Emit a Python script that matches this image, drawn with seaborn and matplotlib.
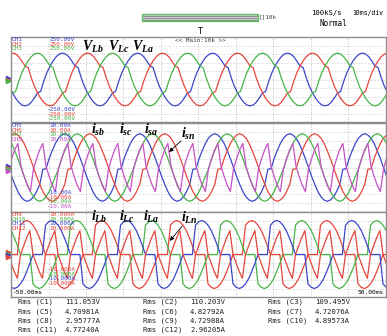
import numpy as np
import pandas as pd
import matplotlib
matplotlib.use("Agg")
import matplotlib.pyplot as plt
import matplotlib.patches as mpatches
import seaborn as sns

# ---------------- data ----------------
time_span_ms = [-50.0, 50.0]
period_ms = 20.0

# Zone 1: load voltages, one period (24 samples, 0.833 ms apart) starting at v_t0
v_t0 = -49.6
ch1_v = [-78, -110, -134, -150, -155, -150, -134, -108, -80, -70, -10, 40,
         78, 110, 134, 150, 155, 150, 134, 108, 80, 70, 10, -40]
ch2_v = [155, 150, 134, 108, 80, 70, 10, -40, -78, -110, -134, -150,
         -155, -150, -134, -108, -80, -70, -10, 40, 78, 110, 134, 150]
ch3_v = [-80, -70, -10, 40, 78, 110, 134, 150, 155, 150, 134, 108,
         80, 70, 10, -40, -78, -110, -134, -150, -155, -150, -134, -108]

# Zone 2: source currents (A)
is_t0 = -49.0
ch5_i = [-3.8, -5.4, -6.6, -7.3, -7.6, -7.3, -6.6, -5.4, -3.8, -0.4, -0.3, 2.0,
         3.8, 5.4, 6.6, 7.3, 7.6, 7.3, 6.6, 5.4, 3.8, 2.0, 0.0, -2.0]
ch6_i = [7.6, 7.3, 6.6, 5.4, 3.8, 2.0, 0.0, -2.0, -3.8, -5.4, -6.6, -7.3,
         -7.6, -7.3, -6.6, -5.4, -3.8, -0.4, -0.3, 2.0, 3.8, 5.4, 6.6, 7.3]
ch7_i = [3.8, 2.0, 0.0, -2.0, -3.8, -5.4, -6.6, -7.3, -7.6, -7.3, -6.6, -5.4,
         -3.8, -2.0, -0.3, 2.0, 3.8, 5.4, 6.6, 7.3, 7.6, 7.3, 6.6, 5.4]
ch8_i = [4.0, 5.4, 0.3, -2.0, -4.0, -5.4, -0.3, 2.0,
         4.0, 5.4, 0.3, -2.0, -4.0, -5.4, -0.3, 2.0,
         4.0, 5.4, 0.3, -2.0, -4.0, -5.4, -0.3, 2.0]

# Zone 3: load currents (A)
il_t0 = -45.8
ch9_i = [8.0, 7.7, 6.9, 5.7, 4.0, 2.1, 0.0, 0.0, 0.0, 0.0, -6.9, -7.7,
         -8.0, -7.7, -6.9, -5.7, -4.0, -2.1, 0.0, 0.0, 0.0, 0.0, 6.9, 7.7]
ch10_i = [0.0, 0.0, -6.9, -7.7, -8.0, -7.7, -6.9, -5.7, -4.0, -2.1, 0.0, 0.0,
          0.0, 0.0, 6.9, 7.7, 8.0, 7.7, 6.9, 5.7, 4.0, 2.1, 0.0, 0.0]
ch11_i = [-4.0, -2.1, 0.0, 0.0, 0.0, 0.0, 6.9, 7.7, 8.0, 7.7, 6.9, 5.7,
          4.0, 2.1, 0.0, 0.0, 0.0, 0.0, -6.9, -7.7, -8.0, -7.7, -6.9, -5.7]
ch12_i = [4.0, 5.6, 0.0, -2.0, -4.0, -5.6, 0.0, 2.0,
          4.0, 5.6, 0.0, -2.0, -4.0, -5.6, 0.0, 2.0,
          4.0, 5.6, 0.0, -2.0, -4.0, -5.6, 0.0, 2.0]

rms_labels = ["Rms (C1)", "Rms (C2)", "Rms (C3)",
              "Rms (C5)", "Rms (C6)", "Rms (C7)",
              "Rms (C8)", "Rms (C9)", "Rms (C10)",
              "Rms (C11)", "Rms (C12)"]
rms_values = ["111.053V", "110.203V", "109.495V",
              "4.70981A", "4.82792A", "4.72076A",
              "2.95777A", "4.72988A", "4.89573A",
              "4.77240A", "2.96205A"]

# ---------------- helpers ----------------
BLUE, RED, GREEN, MAG = "#3c46c8", "#e4463c", "#46b446", "#c452c4"
W, H = 387, 336
MONO = "DejaVu Sans Mono"


def periodic_frame(series, t0):
    rows = []
    for name, vals in series.items():
        n = len(vals)
        dt = period_ms / n
        k = np.arange(-n, 6 * n + 1)
        rows.append(pd.DataFrame({"t": t0 + k * dt,
                                  "v": np.asarray(vals, float)[k % n],
                                  "ch": name}))
    return pd.concat(rows, ignore_index=True)


def px_axes(x0, y0, x1, y1):
    return fig.add_axes([x0 / W, 1 - y1 / H, (x1 - x0) / W, (y1 - y0) / H])


def ftext(x, y, s, **kw):
    kw.setdefault("family", MONO)
    kw.setdefault("va", "center")
    fig.text(x / W, 1 - y / H, s, **kw)


sns.set_theme(style="white")
plt.rcParams["font.family"] = ["DejaVu Sans"]
plt.rcParams["mathtext.fontset"] = "custom"
plt.rcParams["mathtext.rm"] = "Liberation Serif:bold"
plt.rcParams["mathtext.it"] = "Liberation Serif:italic:bold"

fig = plt.figure(figsize=(W / 100, H / 100), dpi=100, facecolor="white")

zones = [
    (37, 122, 250, {"CH1": ch1_v, "CH2": ch2_v, "CH3": ch3_v}, v_t0,
     {"CH1": BLUE, "CH2": RED, "CH3": GREEN}),
    (123, 212, 10, {"CH5": ch5_i, "CH6": ch6_i, "CH7": ch7_i, "CH8": ch8_i}, is_t0,
     {"CH5": BLUE, "CH6": RED, "CH7": GREEN, "CH8": MAG}),
    (212, 297, 10, {"CH9": ch9_i, "CH10": ch10_i, "CH11": ch11_i, "CH12": ch12_i}, il_t0,
     {"CH9": RED, "CH10": GREEN, "CH11": BLUE, "CH12": RED}),
]

axes = []
for (y0, y1, lim, series, t0, pal) in zones:
    ax = px_axes(11, y0, 386, y1)
    df = periodic_frame(series, t0)
    sns.lineplot(data=df, x="t", y="v", hue="ch", hue_order=list(series.keys()),
                 palette=pal, estimator=None, legend=False, ax=ax, lw=0.9)
    ax.set_xlim(*time_span_ms)
    ax.set_ylim(-lim, lim)
    for xv in np.arange(-40, 50, 10):
        ax.axvline(xv, color="#a8a8a8", lw=0.6, ls=(0, (1, 2.0)), zorder=0)
    for yv in np.linspace(-lim, lim, 11)[1:-1]:
        ax.axhline(yv, color="#b4b4b4", lw=0.6, ls=(0, (1, 2.6)), zorder=0)
    ax.set_xticks([])
    ax.set_yticks([])
    ax.set_xlabel("")
    ax.set_ylabel("")
    for s in ax.spines.values():
        s.set_color("#8c8c8c")
        s.set_linewidth(1.0)
    axes.append(ax)

# ---------------- channel labels ----------------
def chlabels(names, cols, vals, ytop, negvals, ybot):
    for i, (n, c, v) in enumerate(zip(names, cols, vals)):
        ftext(12, ytop + i * 4.6, n, color=c, fontsize=4.3)
        ftext(49, ytop + i * 4.6, v, color=c, fontsize=4.3)
    for i, (c, v) in enumerate(zip(cols, negvals)):
        ftext(47, ybot + i * 4.6, v, color=c, fontsize=4.3)

chlabels(["CH1", "CH2", "CH3"], [BLUE, RED, GREEN], ["250.00V"] * 3, 39.5,
         ["-250.00V"] * 3, 109.5)
chlabels(["CH5", "CH6", "CH7", "CH8"], [BLUE, RED, GREEN, MAG], ["10.00A"] * 4, 125.5,
         ["-10.00A"] * 4, 192.5)
chlabels(["CH9", "CH10", "CH11", "CH12"], [RED, GREEN, BLUE, RED], ["10.000A"] * 4, 214.5,
         ["-10.000A"] * 4, 269.5)

# zero-level markers at left of each zone
for yc, cols in [(80, [BLUE, RED, GREEN]), (168, [BLUE, RED, GREEN, MAG]),
                 (254, [RED, GREEN, BLUE, RED])]:
    for j, c in enumerate(cols):
        fig.add_artist(plt.Line2D([7.5 / W], [1 - (yc - 2 + j * 1.5) / H], marker=">",
                                  markersize=3, color=c, lw=0, transform=fig.transFigure))

# ---------------- waveform annotations ----------------
ann = dict(fontsize=10, color="black", va="center", ha="left")
for x, s in [(82, r"$V_{Lb}$"), (108, r"$V_{Lc}$"), (132, r"$V_{La}$")]:
    fig.text(x / W, 1 - 47 / H, s, **ann)
for x, s in [(91, r"$i_{sb}$"), (119, r"$i_{sc}$"), (144, r"$i_{sa}$"), (181, r"$i_{sn}$")]:
    fig.text(x / W, 1 - (130 if x < 170 else 134) / H, s, **ann)
for x, s in [(91, r"$i_{Lb}$"), (119, r"$i_{Lc}$"), (143, r"$i_{La}$"), (181, r"$i_{Ln}$")]:
    fig.text(x / W, 1 - (217 if x < 170 else 218) / H, s, **ann)
for (xa, ya, xb, yb) in [(183, 139, 167, 154), (184, 224, 168, 243)]:
    fig.add_artist(mpatches.FancyArrowPatch((xa / W, 1 - ya / H), (xb / W, 1 - yb / H),
                   transform=fig.transFigure, arrowstyle="-|>", mutation_scale=6,
                   lw=0.6, color="black"))

# ---------------- header ----------------
bar = mpatches.Rectangle((142 / W, 1 - 21 / H), 116 / W, 7 / H, transform=fig.transFigure,
                         facecolor="#d0d0d0", edgecolor="#5cc05c", lw=1.0)
fig.add_artist(bar)
for yy in (15.5, 17.5, 19.5):
    fig.add_artist(plt.Line2D([143 / W, 257 / W], [1 - yy / H] * 2, color="#707070", lw=0.5,
                              transform=fig.transFigure))
ftext(259, 17, "[]10k", fontsize=4.3, color="#404040")
ftext(311, 13, "100kS/s", fontsize=5.2, color="black")
ftext(352, 13, "10ms/div", fontsize=4.7, color="black")
ftext(320, 23, "Normal", fontsize=5.5, color="black")
ftext(200, 31, "T", fontsize=6, color="black", ha="center")
ftext(200, 40, "<< Main:10k >>", fontsize=4.3, color="#404040", ha="center")
ftext(13, 293, "-50.00ms", fontsize=4.5, color="black")
ftext(384, 293, "50.00ms", fontsize=4.5, color="black", ha="right")

# ---------------- RMS table ----------------
cols_x = [18, 143, 268]
rows_y = [302, 312, 321, 330]
for idx, (lab, val) in enumerate(zip(rms_labels, rms_values)):
    r, c = divmod(idx, 3)
    ftext(cols_x[c], rows_y[r], lab, fontsize=5.2, color="#202020")
    ftext(cols_x[c] + 47, rows_y[r], val, fontsize=5.2, color="#202020")

fig.savefig("out.png", dpi=100, facecolor="white")
